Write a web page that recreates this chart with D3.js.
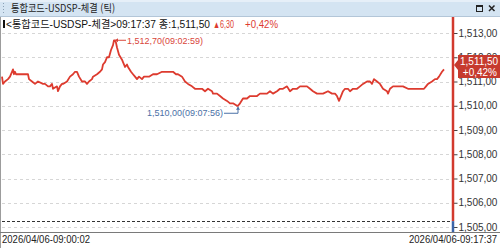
<!DOCTYPE html>
<html lang="ko">
<head>
<meta charset="UTF-8">
<title>통합코드-USDSP-체결 (틱)</title>
<script src="https://d3js.org/d3.v7.min.js"></script>
<style>
    body { margin: 0; background: #fff; }
    svg { display: block; font-family: "Liberation Sans", Arial, "Noto Sans CJK KR", sans-serif; }
</style>
</head>
<body>
<div id="chart"></div>
<script>
// tick sequence numbers and traded price for each tick
var tickNo = [0, 1, 3, 6, 8, 10, 11, 12, 13, 14, 26, 27, 30, 33, 36, 41, 43, 46, 48, 50, 51, 55, 56, 58, 60, 61, 65, 68, 71, 73, 75, 77, 80, 83, 85, 87, 90, 91, 95, 98,
    100, 101, 103, 105, 107, 109, 111, 112, 113, 114, 115, 117, 120, 121, 123, 125, 126, 129, 131, 133, 135, 137, 140, 142, 145, 147, 151, 155, 160, 165,
    171, 174, 176, 180, 183, 186, 190, 193, 196, 200, 203, 206, 210, 211, 215, 218, 221, 225, 228, 231, 235, 236, 238, 241, 245, 248, 251, 255, 258, 261,
    265, 268, 271, 275, 278, 281, 285, 288, 291, 295, 298, 301, 305, 308, 311, 315, 318, 321, 326, 330, 333, 335, 337, 339, 341, 343, 346, 348, 351, 355,
    358, 361, 365, 368, 370, 372, 375, 378, 381, 385, 386, 388, 391, 396, 401, 406, 410, 411, 415, 422, 424, 426, 430, 433, 435, 437, 440, 442];
var prices = [1511.2, 1510.9, 1511.0, 1511.1, 1511.2, 1511.4, 1511.5, 1511.3, 1511.4, 1511.3, 1511.3, 1511.1, 1511.0, 1510.9, 1511.0, 1510.9, 1510.9, 1510.8, 1510.8, 1510.9, 1510.7, 1510.8, 1510.6, 1510.8, 1510.9, 1510.9, 1511.0, 1511.2, 1511.3, 1511.4, 1511.4, 1511.2, 1511.0, 1511.0, 1510.9, 1511.0, 1511.1, 1511.2, 1511.3, 1511.4,
    1511.5, 1511.7, 1511.8, 1512.0, 1512.0, 1512.3, 1512.5, 1512.7, 1512.7, 1512.6, 1512.4, 1512.1, 1511.9, 1511.8, 1511.6, 1511.7, 1511.6, 1511.4, 1511.3, 1511.2, 1511.1, 1511.2, 1511.1, 1511.2, 1511.2, 1511.2, 1511.3, 1511.3, 1511.4, 1511.4,
    1511.4, 1511.3, 1511.3, 1511.2, 1511.0, 1510.9, 1510.8, 1510.7, 1510.7, 1510.7, 1510.6, 1510.7, 1510.6, 1510.5, 1510.5, 1510.4, 1510.3, 1510.2, 1510.1, 1510.1, 1510.0, 1510.0, 1510.1, 1510.3, 1510.3, 1510.4, 1510.4, 1510.4, 1510.5, 1510.5,
    1510.5, 1510.6, 1510.5, 1510.6, 1510.7, 1510.7, 1510.8, 1510.6, 1510.7, 1510.7, 1510.8, 1510.8, 1510.8, 1510.7, 1510.6, 1510.5, 1510.5, 1510.5, 1510.6, 1510.5, 1510.5, 1510.4, 1510.2, 1510.4, 1510.6, 1510.7, 1510.7, 1510.6, 1510.7, 1510.7,
    1510.8, 1510.9, 1511.0, 1511.0, 1510.9, 1511.1, 1511.0, 1510.9, 1510.7, 1510.6, 1510.5, 1510.7, 1510.8, 1510.8, 1510.8, 1510.7, 1510.7, 1510.7, 1510.7, 1510.7, 1510.8, 1510.9, 1511.0, 1511.1, 1511.1, 1511.2, 1511.4, 1511.5];

var priceTicks = [1505, 1506, 1507, 1508, 1509, 1510, 1511, 1512, 1513];
var prevClose = 1505.20;
var maxPoint = {tick: 113, price: 1512.70, label: "1,512,70(09:02:59)"};
var minPoint = {tick: 236, price: 1510.00, label: "1,510,00(09:07:56)"};
var lastPrice = {price: "1,511,50", change: "+0,42%"};
var titleText = "통합코드-USDSP-체결 (틱)";
var infoText = "<통합코드-USDSP-체결>09:17:37 종:1,511,50";
var infoUp = "▲6,30";
var infoPct = "+0,42%";
var startTime = "2026/04/06-09:00:02";
var endTime = "2026/04/06-09:17:37";

var W = 500, H = 248;
var svg = d3.select("#chart").append("svg").attr("width", W).attr("height", H);

var red = "#dd3b2f";

// title bar
svg.append("rect").attr("x", 0).attr("y", 0).attr("width", W).attr("height", 16).attr("fill", "#d4e4f2");
svg.append("rect").attr("x", 0).attr("y", 0).attr("width", W).attr("height", 2).attr("fill", "#e6eff8");
svg.append("line").attr("x1", 0).attr("x2", W).attr("y1", 16.5).attr("y2", 16.5).attr("stroke", "#b3c6d8");
[4, 7, 10, 13].forEach(function (yy) {
    svg.append("rect").attr("x", 3).attr("y", yy - 1).attr("width", 1).attr("height", 1).attr("fill", "#8aa0b5");
});
svg.append("text").attr("x", 11).attr("y", 12).attr("font-size", 10.5).attr("fill", "#222")
    .attr("font-family", "'Noto Sans CJK KR', sans-serif")
    .attr("textLength", 104).attr("lengthAdjust", "spacingAndGlyphs").text(titleText);
// window buttons
svg.append("rect").attr("x", 476.5).attr("y", 5.5).attr("width", 6).attr("height", 6).attr("fill", "none").attr("stroke", "#222");
svg.append("line").attr("x1", 476.5).attr("x2", 482.5).attr("y1", 6.5).attr("y2", 6.5).attr("stroke", "#222");
svg.append("path").attr("d", "M489,5.5L494.5,11M494.5,5.5L489,11").attr("stroke", "#222").attr("stroke-width", 1.5);

// frame
svg.append("line").attr("x1", 0.5).attr("x2", 0.5).attr("y1", 17).attr("y2", H).attr("stroke", "#9c9c9c");
svg.append("line").attr("x1", 0).attr("x2", W).attr("y1", 232.5).attr("y2", 232.5).attr("stroke", "#7a7a7a");

// scales
var x = d3.scaleLinear().domain([0, 451]).range([2, 453]);
var y = d3.scaleLinear().domain([1505, 1513]).range([227, 33]);

// grid
svg.append("g").selectAll("line").data(priceTicks).join("line")
    .attr("x1", 2).attr("x2", 452)
    .attr("y1", function (d) { return Math.round(y(d)) + 0.5; })
    .attr("y2", function (d) { return Math.round(y(d)) + 0.5; })
    .attr("stroke", "#d6d6d6").attr("stroke-dasharray", "3,3");

// previous close
svg.append("line").attr("x1", 2).attr("x2", 452)
    .attr("y1", Math.round(y(prevClose)) - 0.5).attr("y2", Math.round(y(prevClose)) - 0.5)
    .attr("stroke", "#333").attr("stroke-dasharray", "3,2");

// price axis
var fmt = function (d) { return d3.format(",.2f")(d).replace(".", ","); };
var axis = svg.append("g").attr("transform", "translate(453.5,0)")
    .call(d3.axisRight(y).tickValues(priceTicks).tickSize(4).tickPadding(1).tickFormat(fmt));
axis.select(".domain").remove();
axis.selectAll(".tick line").attr("stroke", "#444");
axis.selectAll(".tick text").attr("fill", "#333").attr("font-size", 10)
    .attr("font-family", "'Liberation Sans', Arial, sans-serif");

svg.append("line").attr("x1", 453).attr("x2", 453).attr("y1", 17).attr("y2", y(prevClose) - 1)
    .attr("stroke", "#d23a2e").attr("stroke-width", 2.5);
svg.append("line").attr("x1", 453).attr("x2", 453).attr("y1", y(prevClose) - 1).attr("y2", 232)
    .attr("stroke", "#3b64a8").attr("stroke-width", 2.5);

// price line
var data = tickNo.map(function (t, i) { return {t: t, p: prices[i]}; });
svg.append("path").datum(data)
    .attr("fill", "none").attr("stroke", red).attr("stroke-width", 1.8).attr("stroke-linejoin", "round")
    .attr("d", d3.line().x(function (d) { return x(d.t); }).y(function (d) { return y(d.p); }));

// max annotation
var mx = x(maxPoint.tick), my = y(maxPoint.price);
svg.append("line").attr("x1", mx).attr("x2", mx + 11).attr("y1", my).attr("y2", my).attr("stroke", "#d9453a");
svg.append("path").attr("d", "M" + mx + "," + my + "l3,-2v4z").attr("fill", "#d9453a");
svg.append("text").attr("x", mx + 12).attr("y", my + 3.5).attr("font-size", 9).attr("fill", "#d9453a").text(maxPoint.label);

// min annotation
var nx = x(minPoint.tick), ny = y(minPoint.price);
svg.append("path").attr("d", "M" + (nx - 14) + "," + (ny + 7.5) + "H" + nx + "V" + (ny + 1))
    .attr("fill", "none").attr("stroke", "#4a70a6");
svg.append("path").attr("d", "M" + nx + "," + (ny + 1) + "l-2,3h4z").attr("fill", "#4a70a6");
svg.append("text").attr("x", nx - 15).attr("y", ny + 10.5).attr("text-anchor", "end")
    .attr("font-size", 9).attr("fill", "#4a70a6").text(minPoint.label);

// info line
svg.append("rect").attr("x", 3).attr("y", 20).attr("width", 2).attr("height", 8).attr("fill", "#111");
svg.append("text").attr("x", 6).attr("y", 27.5).attr("font-size", 10).attr("fill", "#111")
    .attr("textLength", 204).attr("lengthAdjust", "spacingAndGlyphs").text(infoText);
svg.append("text").attr("x", 213).attr("y", 27.5).attr("font-size", 10).attr("fill", red)
    .attr("textLength", 21).attr("lengthAdjust", "spacingAndGlyphs").text(infoUp);
svg.append("text").attr("x", 245).attr("y", 27.5).attr("font-size", 10).attr("fill", red)
    .attr("textLength", 33).attr("lengthAdjust", "spacingAndGlyphs").text(infoPct);

// last price marker
svg.append("path").attr("d", "M454,65L458,60V55H500V78H458V70Z").attr("fill", "#c63a2e");
svg.append("text").attr("x", 460).attr("y", 65).attr("font-size", 10).attr("fill", "#fff").text(lastPrice.price);
svg.append("text").attr("x", 497).attr("y", 76).attr("text-anchor", "end").attr("font-size", 10).attr("fill", "#fff").text(lastPrice.change);

// time range
svg.append("text").attr("x", 2).attr("y", 243).attr("font-size", 10).attr("fill", "#222")
    .attr("textLength", 88).attr("lengthAdjust", "spacingAndGlyphs").text(startTime);
svg.append("text").attr("x", 409).attr("y", 243).attr("font-size", 10).attr("fill", "#222")
    .attr("textLength", 88).attr("lengthAdjust", "spacingAndGlyphs").text(endTime);
</script>
</body>
</html>
